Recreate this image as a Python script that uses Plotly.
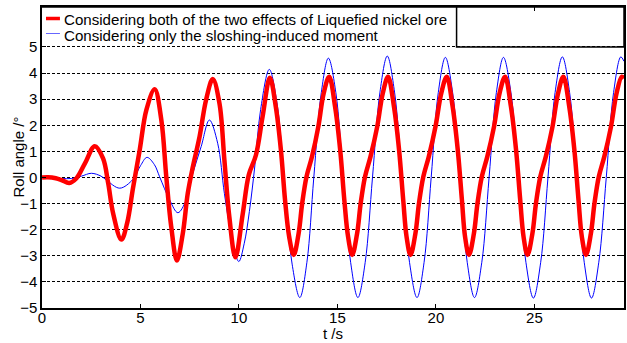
import plotly.graph_objects as go

# ---- data ----
t_both = [0, 0.3, 0.7, 1.0, 1.38, 1.75, 2.18, 2.68, 3.1, 3.36, 3.61, 4.03, 4.32, 4.62, 4.96,
          5.3, 5.72, 6.06, 6.31, 6.56, 6.85, 7.15, 7.4, 7.66, 8.0, 8.33, 8.67, 9.01, 9.26,
          9.51, 9.82, 10.19, 10.5, 10.86, 11.2, 11.57,
          11.87, 12.13, 12.34, 12.55, 12.78, 13.03, 13.21, 13.43, 13.71, 14.03, 14.3, 14.58,
          14.88, 15.14, 15.35, 15.54, 15.75, 16.0, 16.18, 16.4, 16.68, 17.02, 17.3, 17.57,
          17.87, 18.13, 18.34, 18.51, 18.71, 18.96, 19.14, 19.36, 19.64, 19.98, 20.27, 20.55,
          20.85, 21.11, 21.32, 21.48, 21.68, 21.93, 22.11, 22.33, 22.61, 22.95, 23.23, 23.51,
          23.81, 24.07, 24.28, 24.45, 24.65, 24.9, 25.08, 25.3, 25.58, 25.92, 26.2, 26.47,
          26.77, 27.03, 27.24, 27.41, 27.62, 27.87, 28.05, 28.27, 28.55, 28.89, 29.17, 29.44,
          29.55]
v_both = [0, 0.01, -0.03, -0.1, -0.21, -0.03, 0.54, 1.2, 0.73, -0.22, -1.37, -2.38, -1.76, -0.41, 1.05,
          2.59, 3.38, 2.2, 0.03, -1.88, -3.18, -2.14, -0.61, 0.41, 1.56, 2.97, 3.77, 2.84, 0.67,
          -1.5, -3.06, -1.4, 0.1, 0.85, 2.33, 3.82,
          2.71, 1.05, -0.86, -2.27, -2.97, -2.14, -0.99, 0.03, 0.8, 1.95, 3.22, 3.86,
          2.71, 1.05, -0.86, -2.27, -2.97, -2.14, -0.99, 0.03, 0.8, 1.95, 3.22, 3.86,
          2.71, 1.05, -0.86, -2.27, -2.97, -2.14, -0.99, 0.03, 0.8, 1.95, 3.22, 3.86,
          2.71, 1.05, -0.86, -2.27, -2.97, -2.14, -0.99, 0.03, 0.8, 1.95, 3.22, 3.86,
          2.71, 1.05, -0.86, -2.27, -2.97, -2.14, -0.99, 0.03, 0.8, 1.95, 3.22, 3.86,
          2.71, 1.05, -0.86, -2.27, -2.97, -2.14, -0.99, 0.03, 0.8, 1.95, 3.22, 3.86,
          3.8]

t_slosh = [0, 0.5, 1.0, 1.5, 2.0, 2.51, 3.0, 3.27, 3.95, 4.62, 5.0, 5.33, 5.7, 5.97, 6.48, 6.9,
           7.32, 7.66, 8.08, 8.5, 8.92, 9.26, 9.6, 9.99, 10.27, 10.53, 10.8, 11.1, 11.54,
           11.93, 12.31, 12.7, 13.09, 13.45, 13.8, 14.18, 14.54, 14.92, 15.29, 15.67, 16.04,
           16.41, 16.78, 17.16, 17.53, 17.9, 18.28, 18.66, 19.04, 19.4, 19.76, 20.12, 20.48,
           20.85, 21.22, 21.59, 21.96, 22.33, 22.7, 23.07, 23.43, 23.81, 24.19, 24.57, 24.95,
           25.32, 25.69, 26.05, 26.42, 26.79, 27.16, 27.53, 27.9, 28.27, 28.65, 29.02, 29.39,
           29.55]
v_slosh = [0, -0.02, -0.04, -0.04, 0.05, 0.16, 0.05, -0.1, -0.41, -0.07, 0.45, 0.77, 0.5, 0.03, -0.86, -1.35,
           -0.86, 0.16, 1.18, 2.2, 1.31, -0.61, -2.14, -3.22, -2.52, -1.3, 0.4, 2.6, 4.14,
           2.86, -0.23, -3.32, -4.6, -3.25, 0, 3.25, 4.57, 3.25, 0, -3.25, -4.6,
           -3.25, 0, 3.27, 4.65, 3.27, 0, -3.25, -4.6, -3.25, 0, 3.25, 4.6,
           3.25, 0, -3.25, -4.6, -3.25, 0, 3.25, 4.6, 3.25, 0, -3.25, -4.62,
           -3.25, 0, 3.25, 4.62, 3.25, 0, -3.25, -4.62, -3.25, 0, 3.25, 4.62,
           4.45]

x_ticks = [0, 5, 10, 15, 20, 25]
y_ticks = [-5, -4, -3, -2, -1, 0, 1, 2, 3, 4, 5]
label_both = "Considering both of the two effects of Liquefied nickel ore"
label_slosh = "Considering only the sloshing-induced moment"

FONT = "Liberation Sans, Arial, sans-serif"

fig = go.Figure()
fig.add_trace(go.Scatter(x=t_slosh, y=v_slosh, mode="lines",
                         line=dict(color="#0000ff", width=1, shape="spline", smoothing=1.0),
                         showlegend=False))
fig.add_trace(go.Scatter(x=t_both, y=v_both, mode="lines",
                         line=dict(color="#ff0000", width=4.5, shape="spline", smoothing=1.0),
                         showlegend=False))

W, H = 627, 343
L, R, T, B = 42, 1, 7, 35
pw, ph = W - L - R, H - T - B

def px(x):
    return (x - L) / pw

def py(y):
    return (H - B - y) / ph

fig.update_layout(
    width=W, height=H,
    margin=dict(l=L, r=R, t=T, b=B),
    paper_bgcolor="white", plot_bgcolor="white",
    font=dict(family=FONT, size=15, color="black"),
    xaxis=dict(range=[0, 29.55], tickvals=x_ticks, ticks="inside", ticklen=4,
               tickwidth=1, tickcolor="black", showline=True, linecolor="black",
               linewidth=1.5, mirror="ticks", showgrid=False, zeroline=False,
               tickfont=dict(size=15), ticklabelstandoff=-5),
    yaxis=dict(range=[-5, 6.53], tickvals=y_ticks, ticks="inside", ticklen=4,
               tickwidth=1, tickcolor="black", showline=True, linecolor="black",
               linewidth=1.5, mirror="ticks", showgrid=True, gridcolor="black",
               gridwidth=1, griddash="3px,2px", zeroline=False,
               tickfont=dict(size=15)),
    shapes=[
        # white legend area
        dict(type="rect", xref="paper", yref="paper", x0=px(43), x1=px(458),
             y0=py(46), y1=1, fillcolor="white", line=dict(width=0), layer="above"),
        # boxed empty area on the right
        dict(type="rect", xref="paper", yref="paper", x0=px(458), x1=1,
             y0=py(47), y1=1, line=dict(color="black", width=1.5), layer="above"),
        dict(type="line", xref="paper", yref="paper", x0=px(42), x1=px(458),
             y0=1, y1=1, line=dict(color="black", width=1.5), layer="above"),
        # legend samples
        dict(type="line", xref="paper", yref="paper", x0=px(46), x1=px(60),
             y0=py(18.5), y1=py(18.5), line=dict(color="#ff0000", width=3.5), layer="above"),
        dict(type="line", xref="paper", yref="paper", x0=px(46), x1=px(60),
             y0=py(33.5), y1=py(33.5), line=dict(color="#6666ff", width=1), layer="above"),
    ],
    annotations=[
        dict(text=label_both, xref="paper", yref="paper", x=px(62), y=py(19),
             xanchor="left", yanchor="middle", showarrow=False, font=dict(size=15.1)),
        dict(text=label_slosh, xref="paper", yref="paper", x=px(62), y=py(35),
             xanchor="left", yanchor="middle", showarrow=False, font=dict(size=15.1)),
        dict(text="Roll angle /°", xref="paper", yref="paper", x=px(18), y=py(157.5),
             xanchor="center", yanchor="middle", textangle=-90, showarrow=False,
             font=dict(size=15)),
        dict(text="t /s", xref="paper", yref="paper", x=px(334.5), y=py(333),
             xanchor="center", yanchor="middle", showarrow=False, font=dict(size=15)),
    ],
)

fig.write_html("out.html")
